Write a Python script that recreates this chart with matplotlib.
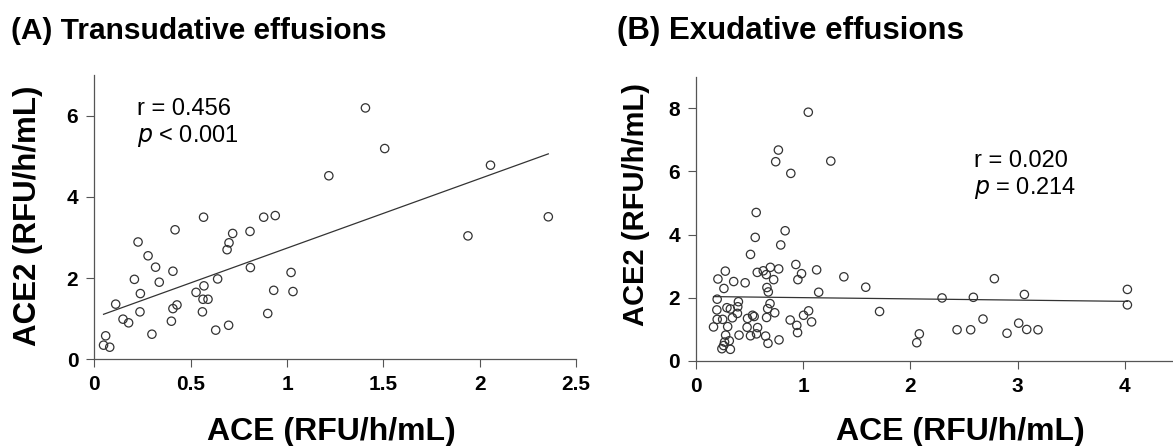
import matplotlib.pyplot as plt
import numpy as np

plt.rcParams['font.family'] = ['Liberation Sans', 'DejaVu Sans']

# (A) transudative effusions: ACE vs ACE2, RFU/h/mL
trans_ace = [0.059, 0.048, 0.080, 0.111, 0.149, 0.178, 0.208, 0.227, 0.239, 0.237,
             0.279, 0.299, 0.318, 0.337, 0.408, 0.419, 0.400, 0.408, 0.429, 0.528,
             0.567, 0.569, 0.561, 0.564, 0.590, 0.630, 0.640, 0.689, 0.699, 0.718,
             0.697, 0.808, 0.810, 0.879, 0.939, 0.900, 0.931, 1.021, 1.031, 1.217,
             1.407, 1.507, 2.056, 1.939, 2.356]
trans_ace2 = [0.58, 0.35, 0.30, 1.36, 0.99, 0.90, 1.97, 2.89, 1.62, 1.17,
              2.55, 0.62, 2.27, 1.90, 2.17, 3.19, 0.94, 1.25, 1.34, 1.65,
              3.50, 1.81, 1.17, 1.48, 1.48, 0.72, 1.98, 2.70, 2.87, 3.10,
              0.84, 3.15, 2.26, 3.50, 3.54, 1.13, 1.70, 2.14, 1.67, 4.52,
              6.19, 5.19, 4.78, 3.04, 3.51]
trans_fit = (1.711, 1.028)   # slope, intercept
trans_stats = ['r = 0.456', r'$\it{p}$ < 0.001']

# (B) exudative effusions
exu_ace = [1.047, 0.768, 0.743, 1.257, 0.884, 0.561, 0.831, 0.552, 0.790, 0.508,
           0.273, 0.204, 0.260, 0.351, 0.458, 0.571, 0.627, 0.655, 0.693, 0.771,
           0.724, 0.661, 0.674, 0.931, 0.984, 0.950, 1.125, 1.144, 1.379, 1.583,
           1.712, 0.197, 0.194, 0.197, 0.163, 0.248, 0.288, 0.320, 0.395, 0.389,
           0.386, 0.339, 0.295, 0.276, 0.401, 0.310, 0.266, 0.257, 0.241, 0.320,
           0.480, 0.527, 0.542, 0.476, 0.508, 0.564, 0.574, 0.649, 0.671, 0.774,
           0.658, 0.668, 0.690, 0.734, 0.878, 0.940, 0.947, 1.003, 1.050, 1.078,
           2.783, 2.295, 2.587, 3.063, 4.024, 4.024, 2.677, 2.435, 2.562, 3.010,
           3.085, 3.190, 2.901, 2.083, 2.059]
exu_ace2 = [7.88, 6.68, 6.31, 6.33, 5.94, 4.70, 4.12, 3.91, 3.67, 3.37,
            2.84, 2.59, 2.29, 2.51, 2.47, 2.80, 2.85, 2.73, 2.96, 2.91,
            2.57, 2.32, 2.18, 3.05, 2.76, 2.57, 2.88, 2.17, 2.66, 2.33,
            1.56, 1.95, 1.61, 1.31, 1.07, 1.31, 1.68, 1.64, 1.87, 1.71,
            1.50, 1.36, 1.08, 0.81, 0.81, 0.63, 0.59, 0.48, 0.38, 0.36,
            1.34, 1.44, 1.40, 1.06, 0.79, 0.85, 1.05, 0.78, 0.55, 0.66,
            1.37, 1.65, 1.81, 1.52, 1.29, 1.12, 0.89, 1.44, 1.58, 1.23,
            2.60, 1.99, 2.01, 2.10, 2.26, 1.77, 1.32, 0.98, 0.98, 1.19,
            0.99, 0.98, 0.87, 0.85, 0.57]
exu_fit = (-0.039, 2.038)
exu_stats = ['r = 0.020', r'$\it{p}$ = 0.214']

fig = plt.figure(figsize=(11.73, 4.46), dpi=100)
ax_a = fig.add_axes([0.0804, 0.1942, 0.4107, 0.6376])
ax_b = fig.add_axes([0.5934, 0.1913, 0.4569, 0.6363])

def scatter_panel(ax, x, y, fit, stats, xlim, ylim, xticks, yticks, stats_pos):
    x = np.asarray(x)
    ax.scatter(x, y, s=36, facecolors='none', edgecolors='#333333', linewidths=0.9,
               zorder=3, clip_on=False)
    # least-squares line over the data range
    xs = np.array([x.min(), x.max()])
    ax.plot(xs, fit[0] * xs + fit[1], color='#333333', lw=0.9, zorder=2)

    ax.set_xlim(*xlim)
    ax.set_ylim(*ylim)
    ax.set_xticks(xticks)
    ax.set_xticklabels([f'{t:g}' for t in xticks])
    ax.set_yticks(yticks)
    ax.tick_params(direction='out', length=5.5, width=0.8, color='#555555',
                   labelsize=15, pad=6)
    for lbl in ax.get_xticklabels() + ax.get_yticklabels():
        lbl.set_fontweight('bold')

    ax.spines['top'].set_visible(False)
    ax.spines['right'].set_visible(False)
    for side in ['left', 'bottom']:
        ax.spines[side].set_color('#555555')
        ax.spines[side].set_linewidth(0.9)

    ax.text(stats_pos[0], stats_pos[1], stats[0], transform=fig.transFigure,
            fontsize=17, va='center', ha='left')
    ax.text(stats_pos[0], stats_pos[1] - 27 / 446, stats[1], transform=fig.transFigure,
            fontsize=17, va='center', ha='left')

scatter_panel(ax_a, trans_ace, trans_ace2, trans_fit, trans_stats,
              (0, 2.5), (0, 7), [0, 0.5, 1, 1.5, 2, 2.5], [0, 2, 4, 6],
              (136.7 / 1173, 1 - 109.3 / 446))
scatter_panel(ax_b, exu_ace, exu_ace2, exu_fit, exu_stats,
              (0, 5), (0, 9), [0, 1, 2, 3, 4], [0, 2, 4, 6, 8],
              (974.3 / 1173, 1 - 161 / 446))

# titles and axis labels
fig.text(11 / 1173, 1 - 31 / 446, '(A) Transudative effusions', fontsize=21.5,
         fontweight='bold', va='center', ha='left')
fig.text(617 / 1173, 1 - 31 / 446, '(B) Exudative effusions', fontsize=22.5,
         fontweight='bold', va='center', ha='left')
fig.text(331 / 1173, 1 - 432 / 446, 'ACE (RFU/h/mL)', fontsize=23,
         fontweight='bold', va='center', ha='center')
fig.text(960 / 1173, 1 - 432 / 446, 'ACE (RFU/h/mL)', fontsize=23,
         fontweight='bold', va='center', ha='center')
fig.text(28 / 1173, 1 - 216 / 446, 'ACE2 (RFU/h/mL)', fontsize=22.5,
         fontweight='bold', va='center', ha='center', rotation=90)
fig.text(636 / 1173, 1 - 205 / 446, 'ACE2 (RFU/h/mL)', fontsize=21,
         fontweight='bold', va='center', ha='center', rotation=90)

fig.savefig('out.png', dpi=100)
